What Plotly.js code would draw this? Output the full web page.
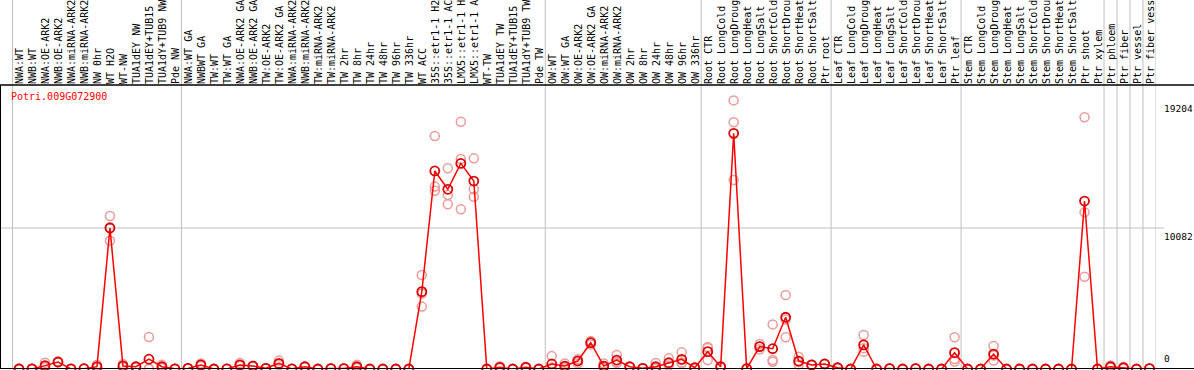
<!DOCTYPE html>
<html>
<head>
<meta charset="utf-8">
<script src="https://cdn.plot.ly/plotly-3.0.1.min.js"></script>
<style>html,body{margin:0;padding:0;background:#fff;}#chart{width:1194px;height:370px;}</style>
</head>
<body>
<div id="chart"></div>
<script>
const geneName = "Potri.009G072900";
const categories = [
 "NWA:WT","NWB:WT","NWA:OE-ARK2","NWB:OE-ARK2","NWA:miRNA-ARK2","NWB:miRNA-ARK2","NW 0hr","WT H2O","WT-NW","TUA1dEY NW",
 "TUA1dEY+TUB15","TUA1dY+TUB9 NW","Pde NW","NWA:WT GA","NWBWT GA","TW:WT","TW:WT GA","NWA:OE-ARK2 GA","NWB:OE-ARK2 GA","TW:OE-ARK2",
 "TW:OE-ARK2 GA","NWA:miRNA-ARK2","NWB:miRNA-ARK2","TW:miRNA-ARK2","TW:miRNA-ARK2","TW 2hr","TW 8hr","TW 24hr","TW 48hr","TW 96hr",
 "TW 336hr","WT ACC","35S::etr1-1 H2","35S::etr1-1 AC","LMX5::etr1-1 H","LMX5::etr1-1 A","WT-TW","TUA1dEY TW","TUA1dEY+TUB15","TUA1dY+TUB9 TW",
 "Pde TW","OW:WT","OW:WT GA","OW:OE-ARK2","OW:OE-ARK2 GA","OW:miRNA-ARK2","OW:miRNA-ARK2","OW 2hr","OW 8hr","OW 24hr",
 "OW 48hr","OW 96hr","OW 336hr","Root CTR","Root LongCold","Root LongDroug","Root LongHeat","Root LongSalt","Root ShortCold","Root ShortDrou",
 "Root ShortHeat","Root ShortSalt","Ptr root","Leaf CTR","Leaf LongCold","Leaf LongDroug","Leaf LongHeat","Leaf LongSalt","Leaf ShortCold","Leaf ShortDrou",
 "Leaf ShortHeat","Leaf ShortSalt","Ptr leaf","Stem CTR","Stem LongCold","Stem LongDroug","Stem LongHeat","Stem LongSalt","Stem ShortCold","Stem ShortDrou",
 "Stem ShortHeat","Stem ShortSalt","Ptr shoot","Ptr xylem","Ptr phloem","Ptr fiber","Ptr vessel","Ptr fiber vess"
];
const meanValues = [
 0,10,240,500,10,20,170,10082,220,160,
 700,160,10,40,290,0,10,290,210,50,
 400,10,160,0,30,30,160,0,0,0,
 0,5530,14160,12850,14700,13440,0,120,0,120,
 0,360,210,570,1880,210,640,160,50,160,
 450,690,90,1240,160,16850,20,1600,1450,3700,
 570,290,360,90,0,1720,0,30,0,30,
 0,0,1170,0,0,1070,0,0,0,0,
 0,0,12010,0,160,90,0,30
];
const replicate1 = [
 20,0,450,520,0,10,300,10940,350,180,
 2290,300,0,60,400,0,0,430,230,50,
 600,0,180,0,30,30,300,0,0,0,
 0,6720,16660,14350,17680,15060,0,200,0,160,
 0,930,400,700,2000,400,1000,160,50,430,
 760,1190,100,1570,160,19204,20,1790,3190,5290,
 880,300,360,90,0,2430,0,30,0,30,
 0,0,2270,0,0,1640,0,0,0,0,
 0,0,18000,0,250,150,0,30
];
const replicate2 = [
 10,20,150,480,10,30,120,9170,150,150,
 20,100,20,30,250,0,10,230,200,50,
 320,10,160,0,30,30,100,0,0,0,
 0,4460,13040,12440,15020,12850,0,100,0,120,
 0,100,150,400,1880,150,500,160,50,30,
 350,430,80,1510,160,17640,20,1600,520,2270,
 330,280,360,90,0,1240,0,30,0,30,
 0,0,710,0,0,600,0,0,0,0,
 0,0,11200,0,160,90,0,30
];
const replicate3 = [
 30,10,120,500,20,20,90,10136,160,150,
 0,80,10,30,220,0,20,210,200,50,
 280,20,140,0,30,30,80,0,0,0,
 0,5400,12750,11780,11420,12320,0,60,0,80,
 0,50,80,610,1760,80,420,160,50,20,
 240,450,90,640,160,13510,20,1410,640,3540,
 500,290,360,90,0,1490,0,30,0,30,
 0,0,530,0,0,970,0,0,0,0,
 0,0,6600,0,100,50,0,30
];
const yTickValues = [19204, 10082, 0];
const yTickLabels = ["19204", "10082", "0"];
const groupSeparators = [0.5, 13.5, 41.5, 53.5, 63.5, 73.5, 84.5, 85.5, 86.5, 87.5, 88.5];

const idx = categories.map((c, i) => i + 1);
const W = 1194, H = 370, mL = 1, mR = 38, mT = 85, mB = 1;
const plotW = W - mL - mR, plotH = H - mT - mB;
const yMax = 20306;
const mono = "DejaVu Sans Mono";
const pink = "#ec9a9a";

const repTrace = (vals) => ({
  x: idx, y: vals, type: "scatter", mode: "markers", cliponaxis: false,
  marker: {symbol: "circle-open", size: 9, color: pink, line: {width: 1.5, color: pink}},
  hoverinfo: "skip", showlegend: false
});
const traces = [
  repTrace(replicate1), repTrace(replicate2), repTrace(replicate3),
  {x: idx, y: meanValues, type: "scatter", mode: "lines+markers", cliponaxis: false,
   line: {color: "#ff0000", width: 1.5},
   marker: {symbol: "circle-open", size: 9, color: "#d80000", line: {width: 1.8, color: "#d80000"}},
   showlegend: false}
];

const shapes = [];
groupSeparators.forEach(s => shapes.push({type: "line", xref: "x", yref: "paper", x0: s, x1: s, y0: 0, y1: 1 + mT / plotH, line: {color: "#c0c0c0", width: 1}, layer: "below"}));
shapes.push({type: "line", xref: "paper", yref: "y", x0: 0, x1: 1 + 8 / plotW, y0: yTickValues[1], y1: yTickValues[1], line: {color: "#c0c0c0", width: 1}, layer: "below"});
shapes.push({type: "line", xref: "paper", yref: "paper", x0: -mL / plotW, x1: 1 + mR / plotW, y0: 1, y1: 1, line: {color: "#000", width: 1.5}});
shapes.push({type: "line", xref: "paper", yref: "y", x0: -mL / plotW, x1: 1 + mR / plotW, y0: 0, y1: 0, line: {color: "#000", width: 2}});

const annotations = [];
yTickValues.forEach((v, i) => annotations.push({
  xref: "paper", yref: "y", x: (1162 - mL) / plotW, y: v, xanchor: "left",
  yanchor: v === 0 ? "bottom" : "top", yshift: v === 0 ? 3 : -1,
  text: yTickLabels[i], showarrow: false, font: {family: mono, size: 9.5, color: "#000"}
}));
annotations.push({xref: "paper", yref: "paper", x: (9 - mL) / plotW, y: 1 - 12 / plotH, xanchor: "left", yanchor: "middle",
  text: geneName, showarrow: false, font: {family: mono, size: 10, color: "#ff0000"}});

const layout = {
  width: W, height: H,
  margin: {l: mL, r: mR, t: mT, b: mB, pad: 0},
  paper_bgcolor: "#fff", plot_bgcolor: "#fff",
  showlegend: false,
  xaxis: {
    range: [1 - 18 / 13, 88.5], side: "top", tickmode: "array", tickvals: idx, ticktext: categories,
    tickangle: -90, ticks: "", ticklen: 0, ticklabelshift: 1, showgrid: false, zeroline: false, showline: false,
    tickfont: {family: mono, size: 10, color: "#000"}, fixedrange: true
  },
  yaxis: {
    range: [0, yMax], showgrid: false, zeroline: false, showticklabels: false, ticks: "",
    showline: true, linecolor: "#000", linewidth: 2, fixedrange: true
  },
  shapes: shapes,
  annotations: annotations
};
Plotly.newPlot("chart", traces, layout, {displayModeBar: false, staticPlot: true});
</script>
</body>
</html>
